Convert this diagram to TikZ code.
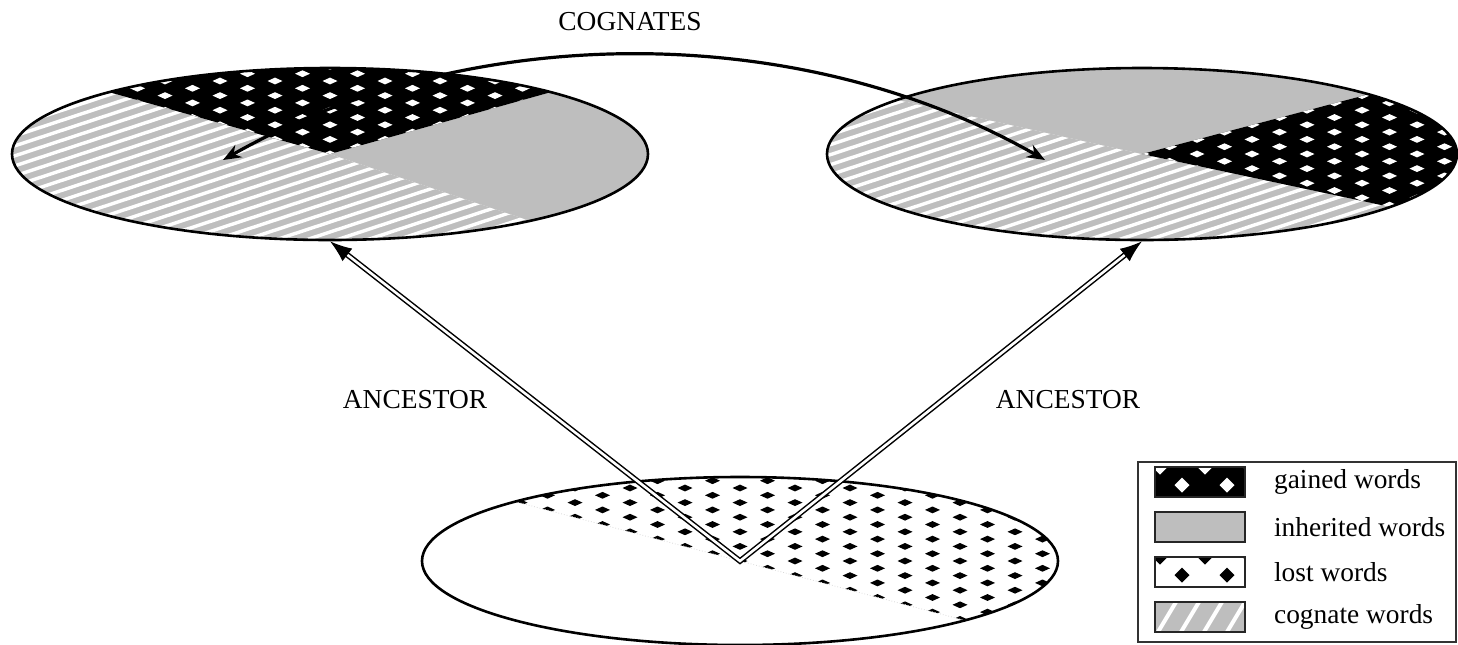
\documentclass[tikz,border=0pt]{standalone}
\usepackage{fontspec}
\setmainfont{Liberation Serif}
\usetikzlibrary{arrows.meta,positioning,shapes.geometric}
\definecolor{inhgray}{RGB}{190,190,190}

% stripes and diamonds used inside the squashed pies
\newcommand{\hatchlines}{\foreach \k in {-320,-310,...,100} {\draw[white, line width=1.7pt] (-340,\k) -- (340,\k+224);}}
\newcommand{\diamondgrid}[1]{\fill[#1] \foreach \i in {-6,...,6} {\foreach \j in {-6,...,6} {
  ({55*\i},{14.6*\j}) +(-7.5,0) -- +(0,3.4) -- +(7.5,0) -- +(0,-3.4) -- cycle
  ({55*\i+27.5},{14.6*\j+7.3}) +(-7.5,0) -- +(0,3.4) -- +(7.5,0) -- +(0,-3.4) -- cycle}};}
\newcommand{\legenddiamonds}{
  \foreach \x in {-40,5,50} {(\x,-15) +(-7.5,0) -- +(0,7.5) -- +(7.5,0) -- +(0,-7.5) -- cycle}
  \foreach \x in {-18,27} {(\x,3) +(-7.5,0) -- +(0,7.5) -- +(7.5,0) -- +(0,-7.5) -- cycle}}

\tikzset{
  pie/.style={draw=black, line width=1.3pt, ellipse, inner sep=0pt},
  ancestor/.style={draw=black, double=white, line width=0.75pt, double distance=1.3pt,
    {Latex[length=11pt,width=8pt]}-{Latex[length=11pt,width=8pt]}},
  cognate/.style={line width=1.6pt, {Stealth[length=9pt,width=7pt]}-{Stealth[length=9pt,width=7pt]}},
  lbl/.style={font=\fontsize{13.7}{16}\selectfont, inner sep=0pt},
  swatch/.style={draw=black!85, line width=0.7pt, minimum width=45pt, minimum height=15pt, inner sep=0pt},
  gainedfill/.style={fill=black, path picture={\fill[white] \legenddiamonds;}},
  lostfill/.style={fill=white, path picture={\fill[black] \legenddiamonds;}},
  cognatefill/.style={fill=inhgray, path picture={
    \foreach \x in {-20,3,...,100} {\draw[white, line width=2pt] (\x-45,15) -- (\x-27,-15);}}},
}

\begin{document}
\begin{tikzpicture}[x=0.5pt, y=-0.5pt]
  \useasboundingbox (0,0) rectangle (1458,644);

  % first daughter language
  \begin{scope}[shift={(330,154)}, yscale=-1]
    \begin{scope}
      \clip (0,0) -- (134:318 and 86) arc[start angle=134, end angle=309, x radius=318, y radius=86] -- cycle;
      \fill[inhgray] (-330,-90) rectangle (330,90);
      \hatchlines
    \end{scope}
    \fill[inhgray] (0,0) -- (-51:318 and 86) arc[start angle=-51, end angle=46, x radius=318, y radius=86] -- cycle;
    \begin{scope}
      \clip (0,0) -- (46:318 and 86) arc[start angle=46, end angle=134, x radius=318, y radius=86] -- cycle;
      \fill[black] (-330,-90) rectangle (330,90);
      \diamondgrid{white}
    \end{scope}
  \end{scope}
  \node[pie, minimum width=318pt, minimum height=86pt] (lang1) at (330,154) {};

  % second daughter language
  \begin{scope}[shift={(1142,154)}, yscale=-1]
    \begin{scope}
      \clip (0,0) -- (141:315 and 86) arc[start angle=141, end angle=322, x radius=315, y radius=86] -- cycle;
      \fill[inhgray] (-330,-90) rectangle (330,90);
      \hatchlines
    \end{scope}
    \fill[inhgray] (0,0) -- (44:315 and 86) arc[start angle=44, end angle=141, x radius=315, y radius=86] -- cycle;
    \begin{scope}
      \clip (0,0) -- (-38:315 and 86) arc[start angle=-38, end angle=44, x radius=315, y radius=86] -- cycle;
      \fill[black] (-330,-90) rectangle (330,90);
      \diamondgrid{white}
    \end{scope}
  \end{scope}
  \node[pie, minimum width=315pt, minimum height=86pt] (lang2) at (1142,154) {};

  % proto-language
  \begin{scope}[shift={(740,561)}, yscale=-1]
    \begin{scope}
      \clip (0,0) -- (-45:318 and 84) arc[start angle=-45, end angle=135, x radius=318, y radius=84] -- cycle;
      \diamondgrid{black}
    \end{scope}
    \draw[gray!30, densely dotted] (135:318 and 84) -- (-45:318 and 84);
  \end{scope}
  \node[pie, minimum width=318pt, minimum height=84pt] (proto) at (740,561) {};

  \draw[ancestor] (lang1.south) -- (proto.center) -- (lang2.south);

  \coordinate (cogL) at (223,160);
  \coordinate (cogR) at (1045,160);
  \draw[cognate] (cogL) .. controls (470,20) and (800,20) .. (cogR);

  \node[lbl] (cogtxt) at (630,22) {COGNATES};
  \node[lbl] (anc1) at (415,400) {ANCESTOR};
  \node[lbl] (anc2) at (1068,400) {ANCESTOR};

  % legend
  \node[draw=black!80, line width=0.7pt, minimum width=159pt, minimum height=90pt, inner sep=0pt] (legend) at (1297,552) {};
  \node[swatch, gainedfill] (sw1) at (1200,482) {};
  \node[swatch, fill=inhgray] (sw2) at (1200,527) {};
  \node[swatch, lostfill] (sw3) at (1200,572) {};
  \node[swatch, cognatefill] (sw4) at (1200,617) {};
  \node[lbl, right=14pt of sw1] (t1) {gained words};
  \node[lbl, right=14pt of sw2] (t2) {inherited words};
  \node[lbl, right=14pt of sw3] (t3) {lost words};
  \node[lbl, right=14pt of sw4] (t4) {cognate words};
\end{tikzpicture}
\end{document}
